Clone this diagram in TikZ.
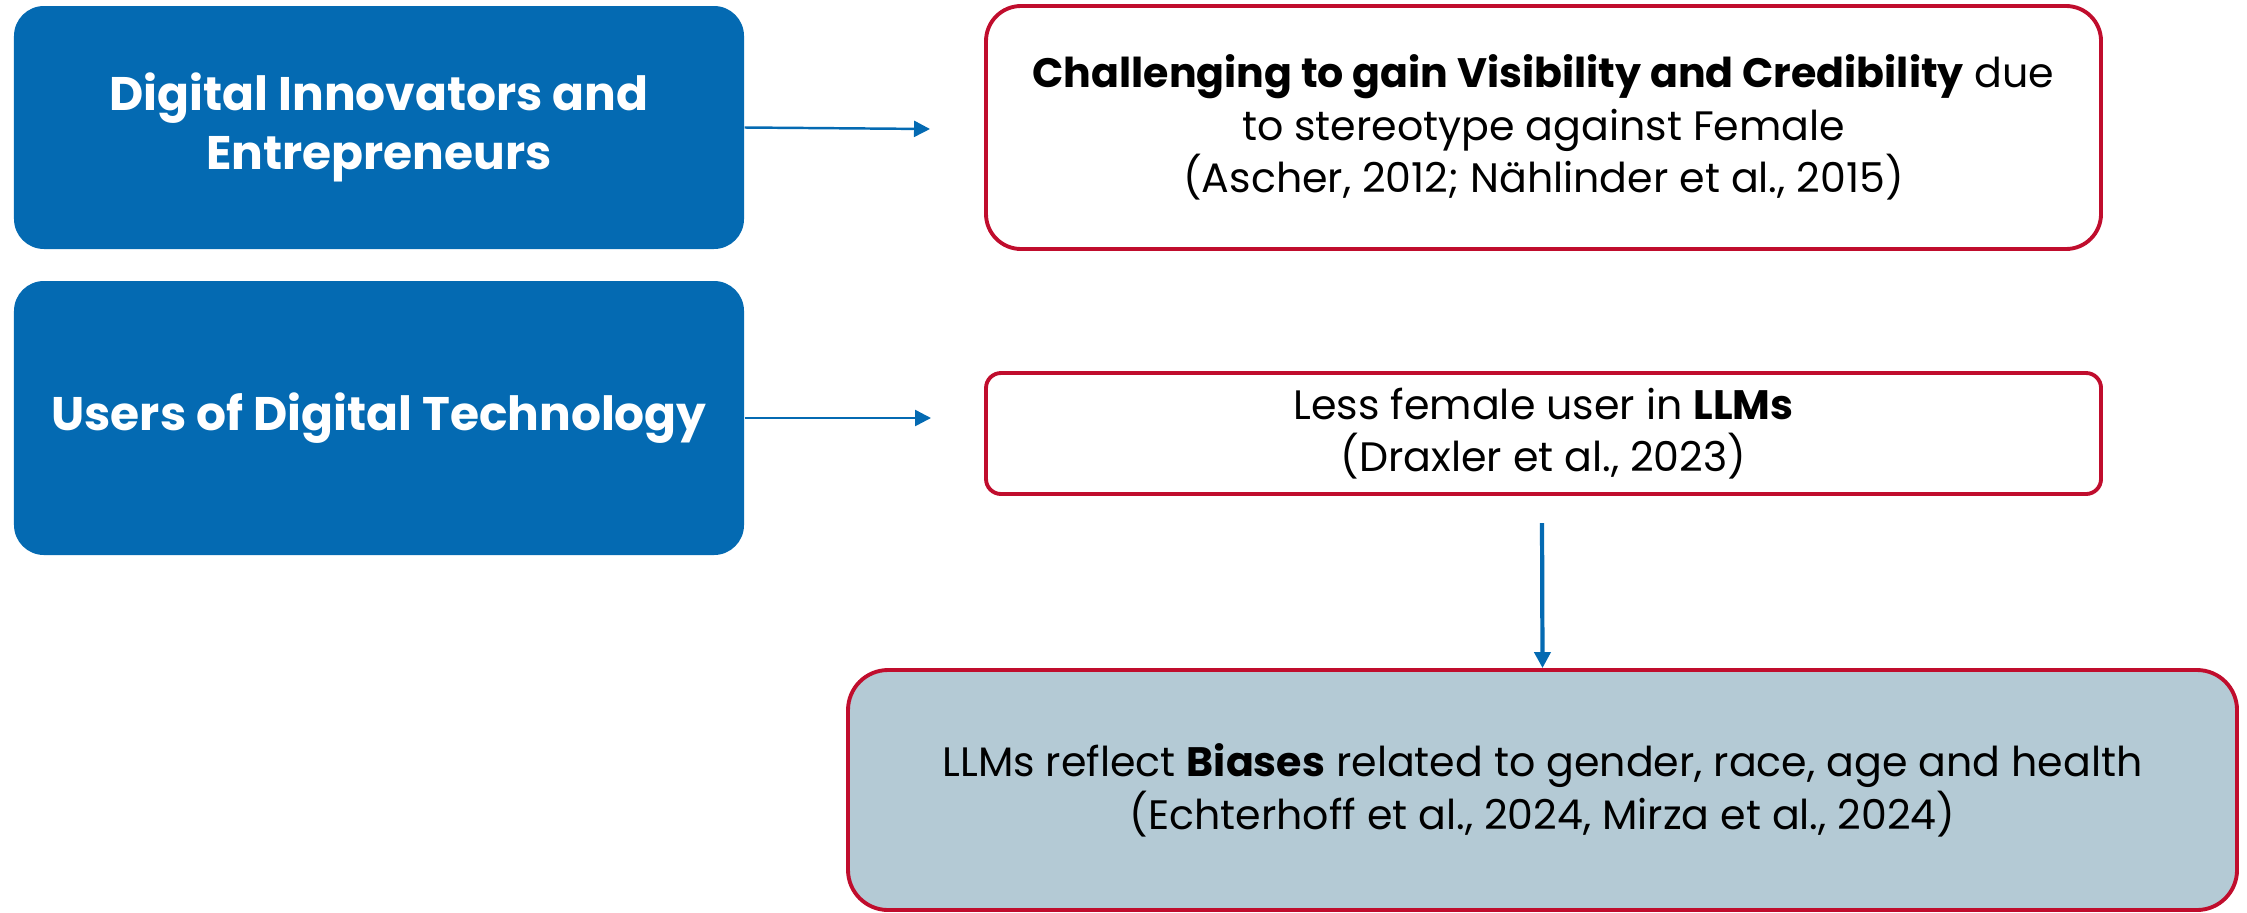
\documentclass[tikz,border=0pt]{standalone}
\usepackage{fontspec}
\setmainfont{Poppins}
\usetikzlibrary{arrows.meta}

\definecolor{roleblue}{RGB}{4,106,178}
\definecolor{edgered}{RGB}{192,13,45}
\definecolor{biasfill}{RGB}{180,202,213}

\tikzset{
    rolebox/.style={draw=none, fill=roleblue, rounded corners=0.3cm, text=white,
        font=\bfseries\fontsize{13.4}{17}\selectfont, align=center, inner sep=0pt},
    findbox/.style={draw=edgered, line width=1.1pt, fill=white, align=center, inner sep=0pt,
        font=\fontsize{11.7}{15}\selectfont},
    link/.style={roleblue, line width=0.7pt, -{Triangle[length=1.6mm, width=1.6mm]}}
}

\begin{document}
\begin{tikzpicture}
        \useasboundingbox (0,0) rectangle (22.47,-9.12);
        % left column
        \node[rolebox, minimum width=7.30cm, minimum height=2.43cm] (innov) at (3.79,-1.275)
            {Digital Innovators and\\Entrepreneurs};
        \node[rolebox, minimum width=7.30cm, minimum height=2.74cm] (users) at (3.79,-4.18)
            {Users of Digital Technology};
        % right column
        \node[findbox, rounded corners=0.35cm, minimum width=11.15cm, minimum height=2.43cm] (cred) at (15.435,-1.275)
            {\textbf{Challenging to gain Visibility and Credibility} due\\to stereotype against Female\\(Ascher, 2012; Nählinder et al., 2015)};
        \node[findbox, rounded corners=0.15cm, minimum width=11.15cm, minimum height=1.21cm] (less) at (15.435,-4.335)
            {Less female user in \textbf{LLMs}\\(Draxler et al., 2023)};
        \node[findbox, fill=biasfill, rounded corners=0.4cm, minimum width=13.89cm, minimum height=2.40cm] (bias) at (15.425,-7.90)
            {LLMs reflect \textbf{Biases} related to gender, race, age and health\\(Echterhoff et al., 2024, Mirza et al., 2024)};
        % arrows
        \coordinate (credin) at (9.30,-1.29);
        \coordinate (lessin) at (9.31,-4.18);
        \coordinate (lessout) at (15.42,-5.23);
        \draw[link] (innov.east |- 0,-1.275) -- (credin);
        \draw[link] (users.east) -- (lessin);
        \draw[link, line width=1.2pt] (lessout) -- (bias.north);
    \end{tikzpicture}
\end{document}
